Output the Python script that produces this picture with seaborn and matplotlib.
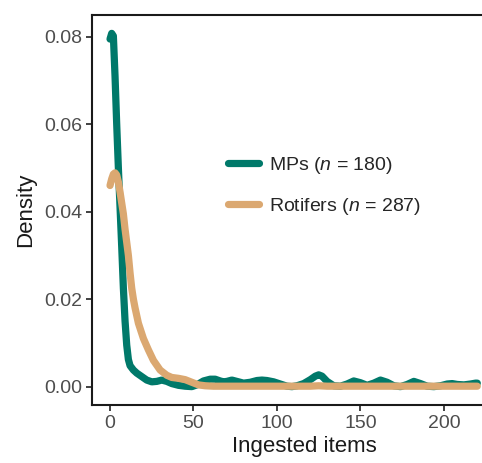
import numpy as np
import pandas as pd
import matplotlib
matplotlib.use("Agg")
import matplotlib.pyplot as plt
import seaborn as sns

# Density curves of ingested items (x grid, density values)
mp_x = [0, 1, 2, 3, 4, 5, 6, 7, 8, 9, 10, 11, 12, 14, 16, 19, 22, 25, 28, 31,
        34, 37, 41, 45, 49, 52, 56, 60, 63, 66, 68, 70, 73, 76, 80, 84, 88, 91,
        94, 98, 102, 106, 109, 112, 116, 120, 123, 125, 127, 130, 134, 138, 142,
        146, 150, 154, 158, 162, 166, 170, 174, 178, 182, 186, 190, 194, 198,
        202, 205, 208, 212, 216, 219, 220]
mp_density = [0.0795, 0.0808, 0.0802, 0.0710, 0.0600, 0.0500, 0.0410, 0.0320,
              0.0225, 0.0150, 0.0095, 0.0062, 0.0048, 0.0038, 0.0031, 0.0023,
              0.0015, 0.0011, 0.0012, 0.0015, 0.0012, 0.0007, 0.0003, 0.0001,
              0.0000, 0.0004, 0.0013, 0.0017, 0.0017, 0.0013, 0.0011, 0.0012,
              0.0015, 0.0012, 0.0008, 0.0010, 0.0014, 0.0015, 0.0014, 0.0011,
              0.0006, 0.0001, 0.0000, 0.0002, 0.0007, 0.0016, 0.0024, 0.0027,
              0.0024, 0.0012, 0.0002, 0.0001, 0.0006, 0.0013, 0.0009, 0.0003,
              0.0008, 0.0015, 0.0010, 0.0002, 0.0000, 0.0005, 0.0012, 0.0007,
              0.0001, 0.0000, 0.0002, 0.0006, 0.0007, 0.0005, 0.0004, 0.0006,
              0.0008, 0.0008]

rot_x = [0, 1, 2, 3, 4, 5, 6, 7, 8, 9, 10, 11, 12, 13, 14, 15, 17, 20, 23, 26,
         30, 34, 37, 41, 45, 49, 53, 57, 62, 80, 100, 120, 125, 130, 160, 200, 220]
rot_density = [0.0460, 0.0475, 0.0486, 0.0489, 0.0484, 0.0468, 0.0445, 0.0420,
               0.0395, 0.0360, 0.0330, 0.0300, 0.0260, 0.0225, 0.0200, 0.0180,
               0.0145, 0.0110, 0.0084, 0.0060, 0.0038, 0.0026, 0.0021, 0.0019,
               0.0016, 0.0010, 0.0004, 0.0002, 0.0001, 0.0001, 0.0001, 0.0001,
               0.0002, 0.0001, 0.0001, 0.0001, 0.0001]

series_labels = ["MPs ($n$ = 180)", "Rotifers ($n$ = 287)"]
series_colors = ["#00796a", "#dba871"]

x_ticks = [0, 50, 100, 150, 200]
y_ticks = [0.00, 0.02, 0.04, 0.06, 0.08]

df = pd.concat([
    pd.DataFrame({"x": mp_x, "density": mp_density, "group": series_labels[0]}),
    pd.DataFrame({"x": rot_x, "density": rot_density, "group": series_labels[1]}),
], ignore_index=True)

sns.set_style("white")
plt.rcParams["font.family"] = ["Liberation Sans", "DejaVu Sans"]
plt.rcParams["mathtext.fontset"] = "custom"
plt.rcParams["mathtext.rm"] = "Liberation Sans"
plt.rcParams["mathtext.it"] = "Liberation Sans:italic"

fig = plt.figure(figsize=(4.82, 4.63), dpi=100)
# panel runs past the right edge of the figure, so its right side is cut off
ax = fig.add_axes([92 / 482, 58 / 463, 424 / 482, 390 / 463])

sns.lineplot(data=df, x="x", y="density", hue="group",
             palette=dict(zip(series_labels, series_colors)),
             hue_order=series_labels, linewidth=5.2, sort=False,
             estimator=None, ax=ax, legend=False)
for line in ax.get_lines():
    line.set_solid_capstyle("round")
    line.set_solid_joinstyle("round")

ax.set_xlim(-10.8, 243.2)
ax.set_ylim(-0.0042, 0.0850)
ax.set_xticks(x_ticks)
ax.set_yticks(y_ticks)
ax.set_yticklabels([f"{v:.2f}" for v in y_ticks])

for side in ["left", "bottom", "top"]:
    ax.spines[side].set_visible(True)
    ax.spines[side].set_linewidth(1.5)
    ax.spines[side].set_color("#1a1a1a")
ax.spines["right"].set_visible(False)

ax.tick_params(axis="both", which="major", direction="out", length=4,
               width=1.3, color="#333333", labelsize=14, labelcolor="#4d4d4d",
               pad=3, bottom=True, left=True)

ax.set_xlabel("Ingested items", fontsize=16, color="#1a1a1a", labelpad=3)
ax.set_ylabel("Density", fontsize=16, color="#1a1a1a", labelpad=6)

handles = [plt.Line2D([], [], color=c, linewidth=5.2, solid_capstyle="round")
           for c in series_colors]
ax.legend(handles, series_labels, loc="center left",
          bbox_to_anchor=(228 / 482, 1 - 186 / 463), bbox_transform=fig.transFigure,
          frameon=False, fontsize=14, handlelength=1.6, handletextpad=0.5,
          labelspacing=1.05, borderpad=0, borderaxespad=0)

fig.savefig("out.png", dpi=100)
